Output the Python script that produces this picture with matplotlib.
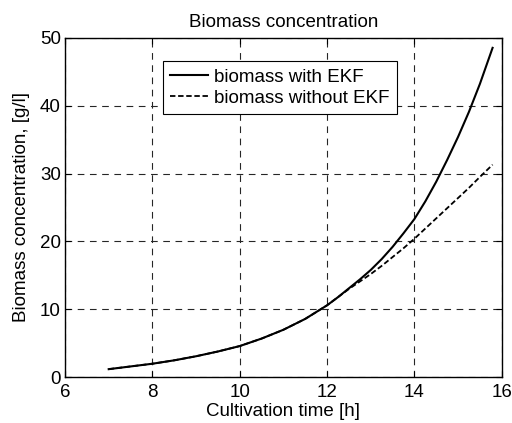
import numpy as np
import matplotlib
matplotlib.use("Agg")
import matplotlib.pyplot as plt

plt.rcParams['font.family'] = ['Liberation Sans', 'DejaVu Sans']

# values
t = [7.0, 7.5, 8.0, 8.5, 9.0, 9.5, 10.0, 10.5, 11.0, 11.5, 12.0, 12.25, 12.5,
     12.75, 13.0, 13.25, 13.5, 13.75, 14.0, 14.25, 14.5, 14.75, 15.0, 15.25,
     15.5, 15.79]
x_ekf = [1.2, 1.6, 2.0, 2.5, 3.1, 3.8, 4.6, 5.7, 7.0, 8.6, 10.6, 11.8, 13.1,
         14.4, 15.8, 17.4, 19.2, 21.2, 23.3, 25.9, 28.8, 32.0, 35.4, 39.1,
         43.2, 48.5]
x_no_ekf = [1.2, 1.6, 2.0, 2.5, 3.1, 3.8, 4.6, 5.7, 7.0, 8.6, 10.6, 11.8, 13.0,
            14.1, 15.2, 16.4, 17.7, 19.0, 20.4, 21.9, 23.4, 24.9, 26.4, 27.9,
            29.5, 31.3]

fig = plt.figure(figsize=(5.12, 4.23), dpi=100)
ax = fig.add_axes([0.127, 0.108, 0.853, 0.803])

ax.plot(t, x_ekf, 'k-', lw=1.5, label='biomass with EKF')
ax.plot(t, x_no_ekf, 'k--', lw=1.3, dashes=(3, 1.5), label='biomass without EKF')

ax.set_xlim(6, 16)
ax.set_ylim(0, 50)
ax.set_xticks(np.arange(6, 17, 2))
ax.set_yticks(np.arange(0, 51, 10))
ax.grid(True, color='0.15', ls=(0, (6, 5)), lw=0.8)
ax.tick_params(direction='in', top=True, right=True, labelsize=13.5, length=4)
ax.tick_params(axis='x', pad=5)
ax.tick_params(axis='y', pad=3)
for s in ax.spines.values():
    s.set_linewidth(1.0)

ax.set_xlabel('Cultivation time [h]', fontsize=13.5, labelpad=1)
ax.set_ylabel('Biomass concentration, [g/l]', fontsize=13.5, labelpad=7)
ax.set_title('Biomass concentration', fontsize=13.5, pad=8)

leg = ax.legend(loc='upper left', bbox_to_anchor=(0.224, 0.93), fontsize=13.5,
                frameon=True, fancybox=False, edgecolor='k', framealpha=1,
                handlelength=2.0, borderpad=0.4, labelspacing=0.2,
                handletextpad=0.35, borderaxespad=0)
leg.get_frame().set_linewidth(0.8)

fig.savefig('out.png', dpi=100)
